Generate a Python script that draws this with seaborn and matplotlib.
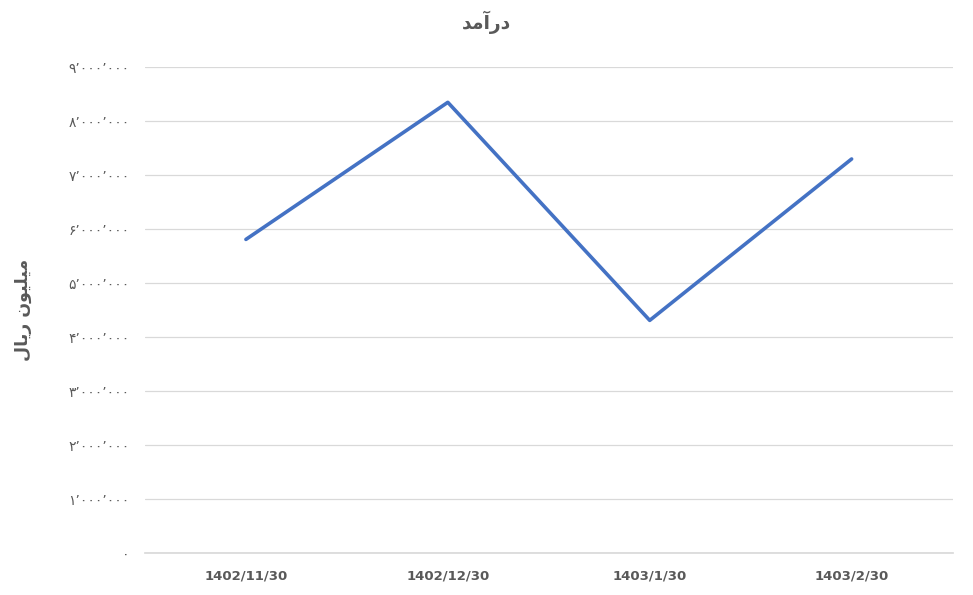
import numpy as np
import pandas as pd
import matplotlib
matplotlib.use("Agg")
import matplotlib.pyplot as plt
import seaborn as sns

# data
dates = ["1402/11/30", "1402/12/30", "1403/1/30", "1403/2/30"]
revenue = [5.81e6, 8.35e6, 4.31e6, 7.30e6]
y_ticks = [0, 1e6, 2e6, 3e6, 4e6, 5e6, 6e6, 7e6, 8e6, 9e6]

# Persian text already shaped (presentation forms, visual order)
title_txt = "\uFEAA\uFEE3\uFE81\uFEAD\uFEA9"          # درآمد
ylabel_txt = "\uFEDD\uFE8E\uFEF3\uFEAD \uFEE5\uFEEE\uFEF4\uFEE0\uFEF4\uFEE3"  # میلیون ریال

fa_digits = str.maketrans("0123456789", "۰۱۲۳۴۵۶۷۸۹")


def fa_label(v):
    s = f"{int(v):,}".replace(",", "\u066C")
    return s.translate(fa_digits)


sns.set_theme(style="white")
plt.rcParams["font.family"] = ["DejaVu Sans"]

df = pd.DataFrame({"date": dates, "revenue": revenue})

fig = plt.figure(figsize=(9.73, 5.95), dpi=100)
ax = fig.add_axes([0.149, 0.0706, 0.83, 0.8164])

sns.lineplot(data=df, x="date", y="revenue", ax=ax, color="#4472C4",
             linewidth=2.6, sort=False)

ax.set_xlim(-0.5, 3.5)
ax.set_ylim(0, 9e6)
ax.set_yticks(y_ticks)
ax.set_yticklabels([fa_label(v) for v in y_ticks], fontsize=10, color="#595959")
ax.tick_params(axis="y", length=0, pad=11)
ax.tick_params(axis="x", length=0, pad=12)
for lab in ax.get_xticklabels():
    lab.set_fontweight("bold")
    lab.set_fontsize(9.5)
    lab.set_color("#595959")

ax.grid(axis="y", color="#D9D9D9", linewidth=0.9)
ax.set_axisbelow(True)
for s in ["top", "right", "left"]:
    ax.spines[s].set_visible(False)
ax.spines["bottom"].set_color("#D9D9D9")

ax.set_xlabel("")
ax.set_ylabel(ylabel_txt, fontsize=12.5, fontweight="bold", color="#595959")
ax.yaxis.set_label_coords(-0.14, 0.5)
fig.text(0.5, 0.962, title_txt, ha="center", va="center", fontsize=13.5,
         fontweight="bold", color="#595959")

fig.savefig("out.png", dpi=100, facecolor="white")
